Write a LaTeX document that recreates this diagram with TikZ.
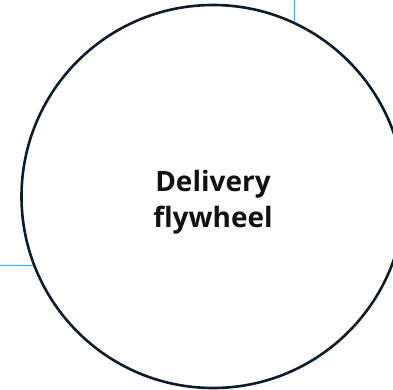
\documentclass[tikz,border=0pt]{standalone}
\usepackage{fontspec}
\setsansfont{Open Sans}
\usetikzlibrary{positioning}
\definecolor{wheelink}{HTML}{0D1B2A}
\definecolor{linkblue}{HTML}{4AA8F0}

\begin{document}
\begin{tikzpicture}[
  x=1pt, y=-1pt,
  every node/.style={font=\sffamily},
  wheel/.style={circle, draw=wheelink, line width=2.6pt, fill=white,
    minimum size=383pt, inner sep=0pt},
  title/.style={align=center, text=black!93,
    font=\sffamily\bfseries\fontsize{28}{36}\selectfont},
  link/.style={linkblue, line width=1pt}
]
\useasboundingbox (0,0) rectangle (393,390);

% Links coming in from outside the frame.
\coordinate (topend) at (294.5,-2);
\coordinate (leftend) at (-2,265.3);

% The flywheel itself.
\node[wheel] (flywheel) at (213,196.5) {};
\node[title] (flywheeltext) at (213,202) {Delivery\\flywheel};

\draw[link] (flywheel.65.7) -- (topend);
\draw[link] (flywheel.201.1) -- (leftend);
\end{tikzpicture}
\end{document}
